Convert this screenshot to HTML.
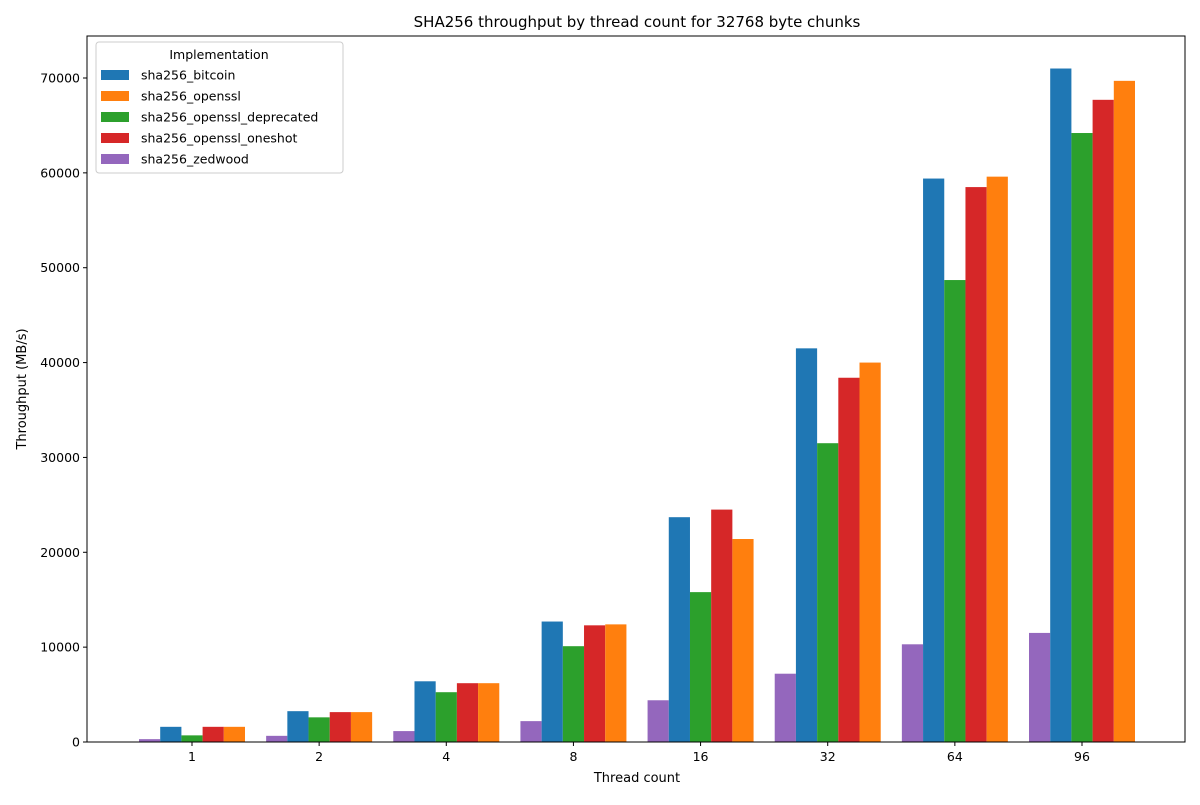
<!DOCTYPE html>
<html><head><meta charset="utf-8"><style>
body{margin:0;background:#fff;font-family:"Liberation Sans","DejaVu Sans",sans-serif}
svg text{font-family:"DejaVu Sans","Liberation Sans",sans-serif}
</style></head><body>
<svg id="c" width="1200" height="800" xmlns="http://www.w3.org/2000/svg">
<rect width="1200" height="800" fill="#fff"/>
<text x="637" y="27" font-size="15" text-anchor="middle">SHA256 throughput by thread count for 32768 byte chunks</text>
<g id="plot"></g>
<rect x="87" y="36" width="1098" height="706" fill="none" stroke="#000" stroke-width="1"/>
<text x="637" y="782" font-size="13" text-anchor="middle">Thread count</text>
<text transform="translate(26,389) rotate(-90)" font-size="13" text-anchor="middle">Throughput (MB/s)</text>
<g id="legend"></g>
</svg>
<script>
const categories=["1","2","4","8","16","32","64","96"];
const seriesNames=["sha256_zedwood","sha256_bitcoin","sha256_openssl_deprecated","sha256_openssl_oneshot","sha256_openssl"];
const zedwood=[300,650,1150,2200,4400,7200,10300,11500];
const bitcoin=[1600,3250,6400,12700,23700,41500,59400,71000];
const deprecated=[700,2600,5250,10100,15800,31500,48700,64200];
const oneshot=[1600,3150,6200,12300,24500,38400,58500,67700];
const openssl=[1600,3150,6200,12400,21400,40000,59600,69700];
const yTicks=[0,10000,20000,30000,40000,50000,60000,70000];
const seriesValues=[zedwood,bitcoin,deprecated,oneshot,openssl];
const colors=["#9467bd","#1f77b4","#2ca02c","#d62728","#ff7f0e"];
const NS="http://www.w3.org/2000/svg";
const plot=document.getElementById('plot');
const y=v=>742-v*(664/70000);
const xc=i=>192+i*(890/7);
const bw=21.2;
function mk(t,a,p){const e=document.createElementNS(NS,t);for(const k in a)e.setAttribute(k,a[k]);p.appendChild(e);return e;}
yTicks.forEach(t=>{
  const g=mk('g',{},plot);
  
  
  mk('line',{x1:83,x2:87,y1:y(t),y2:y(t),stroke:'#000'},g);
  const tx=mk('text',{x:80,y:y(t)+4.5,'font-size':12.5,'text-anchor':'end'},g);tx.textContent=t;
});
categories.forEach((c,i)=>{
  const g=mk('g',{},plot);
  
  
  mk('line',{x1:xc(i),x2:xc(i),y1:742,y2:746,stroke:'#000'},g);
  const tx=mk('text',{x:xc(i),y:761,'font-size':12.5,'text-anchor':'middle'},g);tx.textContent=c;
});
seriesValues.forEach((vals,s)=>{
  vals.forEach((v,i)=>{
    const r=mk('rect',{x:xc(i)+(s-2.5)*bw,y:y(v),width:bw,height:742-y(v),fill:colors[s]},plot);
    
    
  });
});
const lg=document.getElementById('legend');


mk('rect',{x:96,y:42,width:247,height:131,rx:3,fill:'#fff',stroke:'#ccc'},lg);
const lt=mk('text',{x:219,y:59,'font-size':12.5,'text-anchor':'middle'},lg);lt.textContent='Implementation';
const order=[1,4,2,3,0];
order.forEach((s,k)=>{
  const g=mk('g',{},lg);
  
  
  const yy=75+k*21;
  mk('rect',{x:101,y:yy-5,width:28,height:10,fill:colors[s]},g);
  const t=mk('text',{x:141,y:yy+4.5,'font-size':12.5},g);t.textContent=seriesNames[s];
});
</script>
</body></html>
